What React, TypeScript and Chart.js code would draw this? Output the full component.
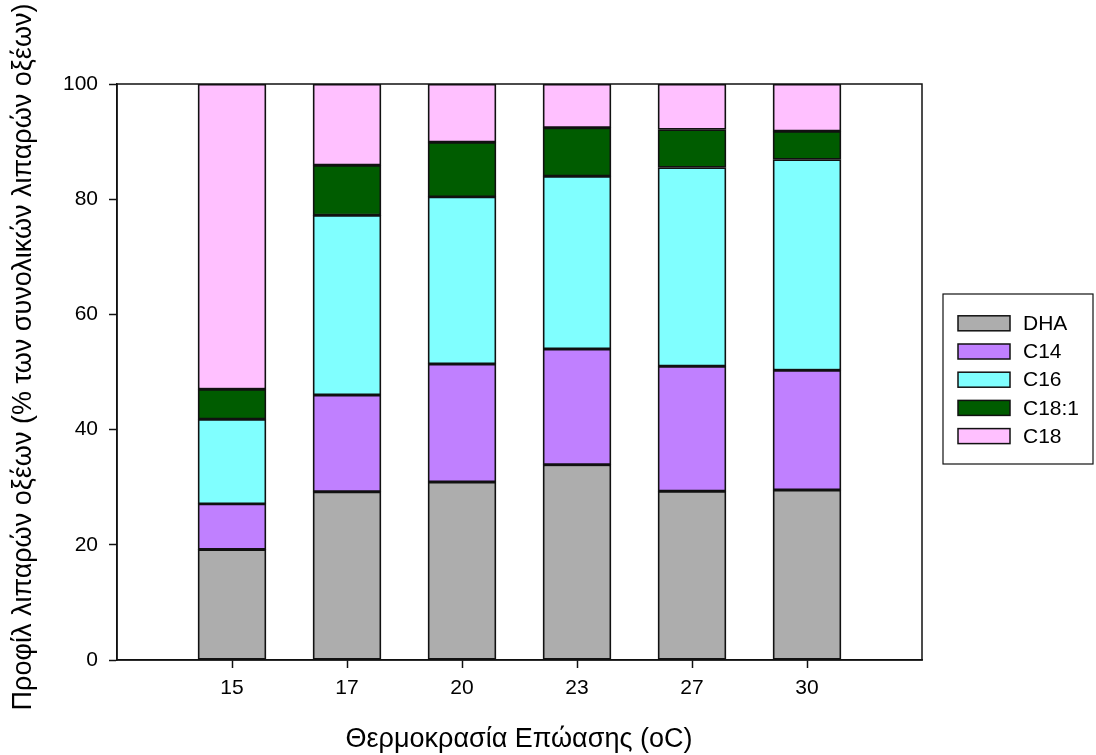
import React, { useEffect, useRef } from "react";
import { Chart, registerables } from "chart.js";

Chart.register(...registerables);

const temperatures = ["15", "17", "20", "23", "27", "30"];
const dha = [19.2, 29.2, 30.9, 33.9, 29.3, 29.5];
const c14 = [7.9, 16.8, 20.5, 20.1, 21.7, 20.8];
const c16 = [14.7, 31.2, 29.0, 30.0, 34.5, 36.6];
const c181 = [5.2, 8.7, 9.5, 8.4, 6.6, 4.9];
const c18 = [53.0, 14.1, 10.1, 7.6, 7.9, 8.2];
const yTicks = [0, 20, 40, 60, 80, 100];

const seriesNames = ["DHA", "C14", "C16", "C18:1", "C18"];
const seriesColors = ["#ADADAD", "#C080FF", "#80FFFF", "#005C00", "#FFC0FF"];

const FONT = "'Liberation Sans', Arial, Helvetica, sans-serif";
const yTitle = "Προφίλ λιπαρών οξέων (% των συνολικών λιπαρών οξέων)";
const xTitle = "Θερμοκρασία Επώασης (oC)";

const pad = (arr: number[]) => [null, ...arr, null];

const decorPlugin = {
  id: "decor",
  afterDraw(chart: any) {
    const { ctx, chartArea } = chart;
    ctx.save();
    // frame
    ctx.strokeStyle = "#111";
    ctx.lineWidth = 1.5;
    ctx.strokeRect(chartArea.left, chartArea.top, chartArea.right - chartArea.left, chartArea.bottom - chartArea.top);

    // axis titles
    ctx.fillStyle = "#000";
    ctx.font = `27px ${FONT}`;
    ctx.textAlign = "center";
    ctx.textBaseline = "middle";
    ctx.fillText(xTitle, 519, 740);
    ctx.save();
    ctx.translate(24, 357);
    ctx.rotate(-Math.PI / 2);
    ctx.fillText(yTitle, 0, 0);
    ctx.restore();

    // legend
    const bx = 943, by = 294, bw = 150, bh = 170;
    ctx.fillStyle = "#fff";
    ctx.fillRect(bx, by, bw, bh);
    ctx.strokeStyle = "#111";
    ctx.lineWidth = 1.2;
    ctx.strokeRect(bx, by, bw, bh);
    const rowStart = 323.3, rowStep = 28.2;
    chart.data.datasets.forEach((ds: any, i: number) => {
      const cy = rowStart + i * rowStep;
      ctx.fillStyle = ds.backgroundColor;
      ctx.fillRect(958, cy - 7.5, 52, 15);
      ctx.strokeStyle = "#111";
      ctx.lineWidth = 1.5;
      ctx.strokeRect(958, cy - 7.5, 52, 15);
      ctx.fillStyle = "#000";
      ctx.font = `21px ${FONT}`;
      ctx.textAlign = "left";
      ctx.textBaseline = "middle";
      ctx.fillText(ds.label, 1023, cy + 1);
    });
    ctx.restore();
  },
};

export default function App() {
  const canvasRef = useRef<HTMLCanvasElement | null>(null);

  useEffect(() => {
    if (!canvasRef.current) return;
    const seriesData = [dha, c14, c16, c181, c18];
    const chart = new Chart(canvasRef.current, {
      type: "bar",
      data: {
        labels: ["", ...temperatures, ""],
        datasets: seriesNames.map((name, i) => ({
          label: name,
          data: pad(seriesData[i]),
          backgroundColor: seriesColors[i],
          borderColor: "#111",
          borderWidth: 1.8,
          borderSkipped: false,
          barThickness: 68,
        })),
      },
      options: {
        animation: false,
        responsive: true,
        maintainAspectRatio: false,
        layout: { padding: { left: 0, right: 174, top: 84, bottom: 0 } },
        plugins: {
          legend: { display: false },
          tooltip: { enabled: false },
        },
        scales: {
          x: {
            type: "category",
            stacked: true,
            offset: false,
            afterFit: (scale: any) => {
              scale.height = 95;
            },
            grid: {
              display: true,
              offset: false,
              drawOnChartArea: false,
              drawTicks: true,
              tickLength: 8,
              tickWidth: 1.5,
              color: (ctx: any) => (ctx.index === 0 || ctx.index === 7 ? "rgba(0,0,0,0)" : "#111"),
              tickColor: (ctx: any) => (ctx.index === 0 || ctx.index === 7 ? "rgba(0,0,0,0)" : "#111"),
            },
            border: { display: true, color: "#111", width: 1.5 },
            ticks: {
              color: "#000",
              font: { family: FONT, size: 21 },
              padding: 8,
              maxRotation: 0,
              autoSkip: false,
            },
          },
          y: {
            stacked: true,
            min: 0,
            max: 100,
            afterFit: (scale: any) => {
              scale.width = 117;
            },
            afterBuildTicks: (scale: any) => {
              scale.ticks = yTicks.map((v) => ({ value: v }));
            },
            grid: {
              display: true,
              drawOnChartArea: false,
              drawTicks: true,
              tickLength: 8,
              tickWidth: 1.5,
              color: "#111",
              tickColor: "#111",
            },
            border: { display: true, color: "#111", width: 1.5 },
            ticks: {
              color: "#000",
              font: { family: FONT, size: 21 },
              padding: 11,
            },
          },
        },
      },
      plugins: [decorPlugin],
    });
    return () => chart.destroy();
  }, []);

  return (
    <div style={{ position: "fixed", left: 0, top: 0, width: 1096, height: 755, background: "#fff" }}>
      <canvas ref={canvasRef} />
    </div>
  );
}
